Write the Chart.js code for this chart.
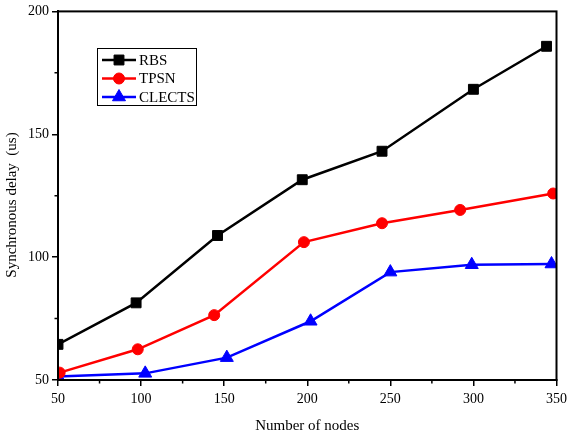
<!DOCTYPE html>
<html>
<head>
<meta charset="utf-8">
<script src="https://cdn.jsdelivr.net/npm/chart.js@4"></script>
<style>
  html, body { margin: 0; padding: 0; background: #fff; }
  #wrap { width: 572px; height: 442px; }
</style>
</head>
<body>
<div id="wrap"><canvas id="myChart" width="572" height="442"></canvas></div>
<script>
// values
const seriesNames = ['RBS', 'TPSN', 'CLECTS'];
const rbsX = [50, 97, 146, 197, 245, 300, 344];
const rbsY = [64.5, 81.4, 108.8, 131.5, 143.1, 168.3, 185.8];
const tpsnX = [51, 98, 144, 198, 245, 292, 348];
const tpsnY = [53, 62.5, 76.4, 106.1, 113.8, 119.2, 125.9];
const clectsX = [50, 102.5, 151.6, 202, 250, 299, 347];
const clectsY = [51.4, 52.7, 59.1, 73.9, 93.9, 96.9, 97.2];
const xTicks = [50, 100, 150, 200, 250, 300, 350];
const yTicks = [50, 100, 150, 200];
const yTitle = 'Synchronous delay  (us)';

const serif = "'Liberation Serif', 'Times New Roman', serif";

function toPoints(xs, ys) {
    return xs.map((x, i) => ({ x: x, y: ys[i] }));
}

const colors = ['#000000', '#ff0000', '#0000ff'];
const styles = ['rect', 'circle', 'triangle'];
const radii = [7, 5.5, 7.5];

// frame, minor ticks, y title and legend box
const framePlugin = {
    id: 'framePlugin',
    afterDraw(chart) {
        const ctx = chart.ctx;
        const a = chart.chartArea;
        const xs = chart.scales.x;
        const ys = chart.scales.y;
        ctx.save();
        ctx.strokeStyle = '#000';
        ctx.lineWidth = 2;
        ctx.strokeRect(a.left, a.top, a.right - a.left, a.bottom - a.top);

        // minor ticks
        ctx.lineWidth = 1.5;
        ctx.beginPath();
        for (let v = 75; v < 350; v += 50) {
            const px = xs.getPixelForValue(v);
            ctx.moveTo(px, a.bottom);
            ctx.lineTo(px, a.bottom + 3.5);
        }
        for (let v = 75; v < 200; v += 50) {
            const py = ys.getPixelForValue(v);
            ctx.moveTo(a.left, py);
            ctx.lineTo(a.left - 3.5, py);
        }
        ctx.stroke();

        // y title
        ctx.save();
        ctx.translate(12, 205);
        ctx.rotate(-Math.PI / 2);
        ctx.fillStyle = '#000';
        ctx.font = '15px ' + serif;
        ctx.textAlign = 'center';
        ctx.textBaseline = 'middle';
        ctx.fillText(yTitle, 0, 0);
        ctx.restore();

        // legend
        ctx.lineWidth = 1;
        ctx.strokeStyle = '#000';
        ctx.strokeRect(97.5, 48.5, 99, 57);
        const rows = [60, 78.5, 97];
        chart.data.datasets.forEach((ds, i) => {
            const y = rows[i];
            ctx.strokeStyle = ds.borderColor;
            ctx.fillStyle = ds.backgroundColor;
            ctx.lineWidth = 2.5;
            ctx.beginPath();
            ctx.moveTo(102, y);
            ctx.lineTo(136, y);
            ctx.stroke();
            ctx.lineWidth = 1;
            Chart.helpers.drawPoint(ctx, {
                pointStyle: ds.pointStyle,
                radius: ds.pointRadius,
                borderWidth: 1,
                rotation: 0
            }, 119, y);
            ctx.fillStyle = '#000';
            ctx.font = '15px ' + serif;
            ctx.textBaseline = 'middle';
            ctx.textAlign = 'left';
            ctx.fillText(seriesNames[i], 139, y + 1);
        });
        ctx.restore();
    }
};

const ctx = document.getElementById('myChart');
const data = [toPoints(rbsX, rbsY), toPoints(tpsnX, tpsnY), toPoints(clectsX, clectsY)];

new Chart(ctx, {
    type: 'scatter',
    data: {
        datasets: seriesNames.map((name, i) => ({
            label: name,
            data: data[i],
            showLine: true,
            borderColor: colors[i],
            backgroundColor: colors[i],
            borderWidth: 2.5,
            pointStyle: styles[i],
            pointRadius: radii[i],
            pointHoverRadius: radii[i],
            pointBorderWidth: 1,
            tension: 0
        }))
    },
    options: {
        responsive: false,
        animation: false,
        layout: { padding: { top: 10, right: 13, left: 0, bottom: 0 } },
        plugins: { legend: { display: false }, tooltip: { enabled: false } },
        scales: {
            x: {
                type: 'linear',
                min: 50,
                max: 350,
                afterBuildTicks: (scale) => { scale.ticks = xTicks.map(v => ({ value: v })); },
                afterFit: (scale) => { scale.height = 62; },
                grid: { drawOnChartArea: false, drawTicks: true, tickLength: 6, color: '#000', lineWidth: 1.5 },
                border: { color: '#000', width: 2 },
                ticks: { color: '#000', font: { family: serif, size: 14 }, padding: 5, maxRotation: 0 },
                title: {
                    display: true,
                    text: 'Number of nodes',
                    color: '#000',
                    font: { family: serif, size: 15 },
                    padding: { top: 0, bottom: 7 }
                }
            },
            y: {
                type: 'linear',
                min: 50,
                max: 200,
                afterBuildTicks: (scale) => { scale.ticks = yTicks.map(v => ({ value: v })); },
                afterFit: (scale) => { scale.width = 58; },
                grid: { drawOnChartArea: false, drawTicks: true, tickLength: 6, color: '#000', lineWidth: 1.5 },
                border: { color: '#000', width: 2 },
                ticks: { color: '#000', font: { family: serif, size: 14 }, padding: 3 }
            }
        }
    },
    plugins: [framePlugin]
});
</script>
</body>
</html>
